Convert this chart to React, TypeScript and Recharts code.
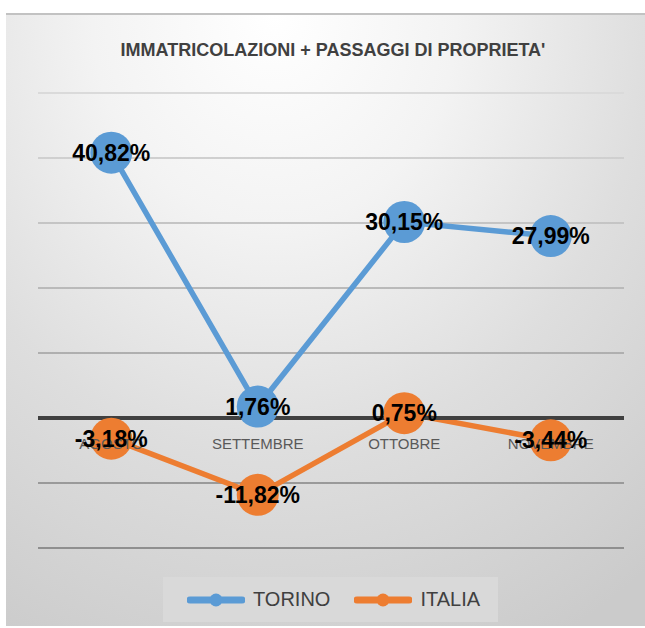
import React from 'react';
import { LineChart, Line, XAxis, YAxis, CartesianGrid, ReferenceLine, LabelList } from 'recharts';

const categories = ['AGOSTO', 'SETTEMBRE', 'OTTOBRE', 'NOVEMBRE'];
const torino = [40.82, 1.76, 30.15, 27.99];
const italia = [-3.18, -11.82, 0.75, -3.44];
const yTicks = [-20, -10, 0, 10, 20, 30, 40, 50];

const series = [
  { key: 'torino', name: 'TORINO', color: '#5B9BD5', values: torino },
  { key: 'italia', name: 'ITALIA', color: '#ED7D31', values: italia },
];

const data = categories.map((month, i) => ({
  month,
  torino: torino[i],
  italia: italia[i],
}));

const W = 645;
const H = 628;
const X_AXIS_H = 20;
const margin = { top: 93, right: 21, bottom: 60, left: 38 };
const plotH = H - margin.top - margin.bottom - X_AXIS_H;
const yMin = yTicks[0];
const yMax = yTicks[yTicks.length - 1];
// distance from plot bottom up to the zero line, where the category labels sit
const zeroFromBottom = (plotH * (0 - yMin)) / (yMax - yMin);
// half a category slot on each side, like Excel's "between tick marks"
const sidePad = (W - margin.left - margin.right) / categories.length / 2;

const font = '"Liberation Sans", Arial, sans-serif';

const fmt = (v: number) => `${v.toFixed(2).replace('.', ',')}%`;

const MonthTick = (props: any) => {
  const { x, y, payload } = props;
  return (
    <text
      x={x}
      y={y - zeroFromBottom + 25}
      textAnchor="middle"
      dominantBaseline="central"
      fontSize={15}
      fontFamily={font}
      fill="#595959"
    >
      {payload.value}
    </text>
  );
};

const ValueLabel = (props: any) => {
  const { x, y, value } = props;
  return (
    <text
      x={x}
      y={y}
      textAnchor="middle"
      dominantBaseline="central"
      fontSize={23}
      fontWeight="bold"
      fontFamily={font}
      fill="#000"
    >
      {fmt(value)}
    </text>
  );
};

export default function App() {
  return (
    <div style={{ position: 'relative', width: W, height: H, overflow: 'hidden', fontFamily: font }}>
      <style>{`body{margin:0;overflow:hidden}`}</style>
      <div
        style={{
          position: 'absolute',
          left: 6,
          top: 13,
          right: 0,
          bottom: 2,
          borderTop: '2px solid #c2c2c2',
          background:
            'radial-gradient(ellipse 95% 115% at 42% 0%, #ffffff 0%, #f3f3f3 30%, #dedede 62%, #cbcbcb 100%)',
        }}
      />
      <div
        style={{
          position: 'absolute',
          left: 0,
          width: 2 * 333,
          top: 40,
          textAlign: 'center',
          fontSize: 18,
          fontWeight: 'bold',
          color: '#404040',
          whiteSpace: 'nowrap',
        }}
      >
        IMMATRICOLAZIONI + PASSAGGI DI PROPRIETA'
      </div>
      <div style={{ position: 'absolute', left: 0, top: 0 }}>
        <LineChart width={W} height={H} data={data} margin={margin}>
          <defs>
            <linearGradient id="gridFade" gradientUnits="userSpaceOnUse" x1="0" y1={margin.top} x2="0" y2={margin.top + plotH}>
              <stop offset="0%" stopColor="#dadada" />
              <stop offset="100%" stopColor="#8f8f8f" />
            </linearGradient>
          </defs>
          <CartesianGrid vertical={false} stroke="url(#gridFade)" strokeWidth={2} />
          <XAxis
            dataKey="month"
            height={X_AXIS_H}
            axisLine={false}
            tickLine={false}
            tickSize={0}
            tickMargin={0}
            tick={<MonthTick />}
            interval={0}
            padding={{ left: sidePad, right: sidePad }}
          />
          <YAxis hide domain={[yMin, yMax]} ticks={yTicks} />
          {series.map((s) => (
            <Line
              key={s.key}
              dataKey={s.key}
              name={s.name}
              stroke={s.color}
              strokeWidth={5.5}
              dot={{ r: 21, fill: s.color, stroke: 'none' }}
              activeDot={false}
              isAnimationActive={false}
            >
              <LabelList dataKey={s.key} content={<ValueLabel />} />
            </Line>
          ))}
          <ReferenceLine y={0} stroke="#404040" strokeWidth={4} />
        </LineChart>
      </div>
      <div
        style={{
          position: 'absolute',
          left: 163,
          top: 577,
          width: 335,
          height: 45,
          background: '#d9d9d9',
          display: 'flex',
          alignItems: 'center',
          paddingLeft: 24,
          boxSizing: 'border-box',
        }}
      >
        {series.map((s) => (
          <div key={s.key} style={{ display: 'flex', alignItems: 'center', marginRight: 24 }}>
            <svg width={58} height={14} style={{ display: 'block' }}>
              <line x1={3} y1={7} x2={55} y2={7} stroke={s.color} strokeWidth={7} strokeLinecap="round" />
              <circle cx={29} cy={7} r={6.5} fill={s.color} />
            </svg>
            <span style={{ fontSize: 20, color: '#404040', marginLeft: 8 }}>{s.name}</span>
          </div>
        ))}
      </div>
    </div>
  );
}
